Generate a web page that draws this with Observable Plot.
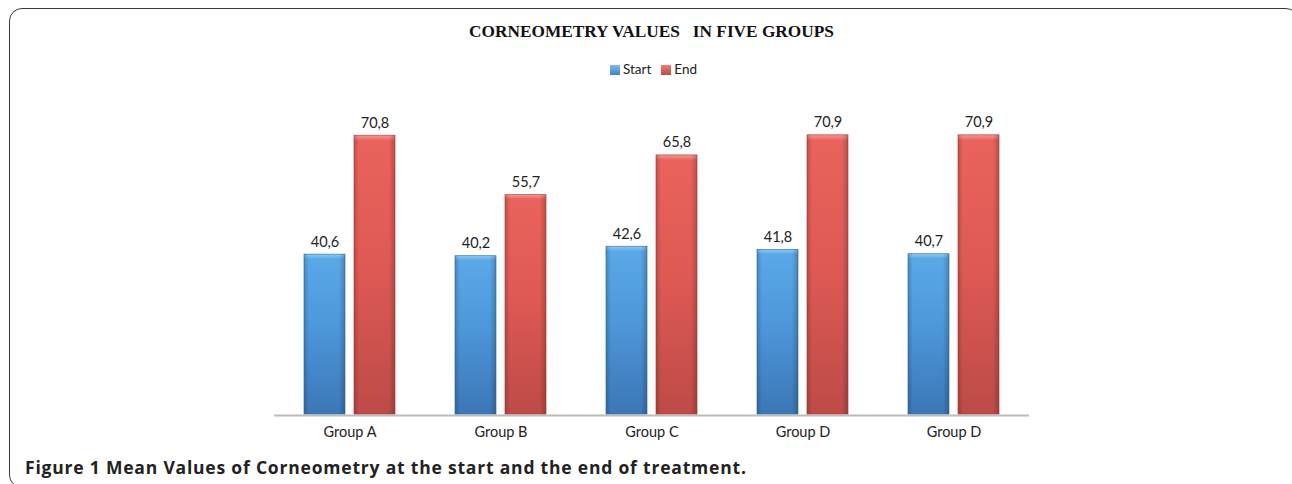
<!DOCTYPE html>
<html><head><meta charset="utf-8">
<script src="https://cdn.jsdelivr.net/npm/d3@7"></script>
<script src="https://cdn.jsdelivr.net/npm/@observablehq/plot@0.6"></script>
<style>
html,body{margin:0;padding:0;background:#fff;}
body{width:1292px;height:484px;overflow:hidden;position:relative;font-family:Lato,"Open Sans",sans-serif;}
#frame{position:absolute;left:9px;top:8px;width:1290px;height:480px;border:1.6px solid #3a3a3a;border-radius:13px;box-sizing:border-box;}
#title{position:absolute;left:0;width:1303px;top:22px;line-height:18px;text-align:center;font:bold 17.3px "Liberation Serif","Times New Roman",serif;white-space:pre;color:#111;}
#legend{position:absolute;left:0;width:1307px;top:61px;line-height:16px;text-align:center;font-size:13.5px;color:#222;}
#legend span.item{display:inline-block;margin:0 5px;}
#legend span.sw{display:inline-block;width:10px;height:10px;margin-right:3px;vertical-align:-1px;}
#chart{position:absolute;left:0;top:0;}
#caption{position:absolute;left:25px;top:455px;line-height:22px;font:bold 17.5px "Open Sans",sans-serif;letter-spacing:0.8px;color:#222;white-space:pre;}
</style>
</head><body>
<div id="frame"></div>
<div id="title"></div>
<div id="legend"></div>
<div id="chart"></div>
<div id="caption"></div>
<script>
const titleText = "CORNEOMETRY VALUES   IN FIVE GROUPS";
const captionBold = "Figure 1";
const captionText = " Mean Values of Corneometry at the start and the end of treatment.";
const groups = ["Group A", "Group B", "Group C", "Group D", "Group D"];
const seriesNames = ["Start", "End"];
const startValues = [40.6, 40.2, 42.6, 41.8, 40.7];
const endValues = [70.8, 55.7, 65.8, 70.9, 70.9];

const data = groups.flatMap((g, i) => [
  {gi: i, series: "Start", value: startValues[i]},
  {gi: i, series: "End", value: endValues[i]}
]);
const fmt = v => v.toFixed(1).replace(".", ",");

document.getElementById("title").textContent = titleText;
{
  const cap = document.getElementById("caption");
  const b = document.createElement("span"); b.textContent = captionBold; cap.appendChild(b);
  const t = document.createElement("span"); t.textContent = captionText; cap.appendChild(t);
}
{
  const lg = document.getElementById("legend");
  const grads = {Start: "linear-gradient(#7dbcf0,#3f80c4)", End: "linear-gradient(#f07a74,#c04b47)"};
  seriesNames.forEach(s => {
    const item = document.createElement("span"); item.className = "item";
    const sw = document.createElement("span"); sw.className = "sw"; sw.style.background = grads[s];
    item.appendChild(sw); item.appendChild(document.createTextNode(s));
    lg.appendChild(item);
  });
}

const chart = Plot.plot({
  width: 1292,
  height: 440,
  marginTop: 99,
  marginBottom: 26,
  marginLeft: 274,
  marginRight: 263,
  style: {fontFamily: "Lato, 'Open Sans', sans-serif", fontSize: "14.5px", color: "#222", background: "transparent"},
  fx: {domain: d3.range(groups.length), padding: 0, tickFormat: i => groups[i], label: null, axis: "bottom", tickSize: 0, tickPadding: 12},
  x: {domain: seriesNames, paddingInner: 0.176, paddingOuter: 0.569, axis: null},
  y: {domain: [0, 80], axis: null},
  marks: [
    Plot.ruleY([0], {stroke: "#bcbcbc", strokeWidth: 2, dy: 1}),
    Plot.barY(data.filter(d => d.series === "Start"), {fx: "gi", x: "series", y: "value", fill: "url(#gStart)", stroke: "#3a76b3", strokeWidth: 0.7}),
    Plot.barY(data.filter(d => d.series === "End"), {fx: "gi", x: "series", y: "value", fill: "url(#gEnd)", stroke: "#b5473f", strokeWidth: 0.7}),
    Plot.barY(data, {fx: "gi", x: "series", y: "value", fill: "url(#gEdge)"}),
    Plot.text(data, {fx: "gi", x: "series", y: "value", text: d => fmt(d.value), dy: -8, lineAnchor: "bottom", fontSize: 14.5, fill: "#222"})
  ]
});

d3.select(chart).insert("defs", ":first-child").html(`
  <linearGradient id="gStart" x1="0" y1="0" x2="0" y2="1">
    <stop offset="0" stop-color="#8fcaf5"/>
    <stop offset="0.03" stop-color="#5aa8e8"/>
    <stop offset="0.45" stop-color="#4d97da"/>
    <stop offset="1" stop-color="#3c77b6"/>
  </linearGradient>
  <linearGradient id="gEnd" x1="0" y1="0" x2="0" y2="1">
    <stop offset="0" stop-color="#f59a94"/>
    <stop offset="0.02" stop-color="#e9625c"/>
    <stop offset="0.45" stop-color="#e05a55"/>
    <stop offset="1" stop-color="#bd4b47"/>
  </linearGradient>
  <linearGradient id="gEdge" x1="0" y1="0" x2="1" y2="0">
    <stop offset="0" stop-color="#000" stop-opacity="0.18"/>
    <stop offset="0.12" stop-color="#000" stop-opacity="0"/>
    <stop offset="0.85" stop-color="#000" stop-opacity="0"/>
    <stop offset="1" stop-color="#000" stop-opacity="0.2"/>
  </linearGradient>`);

document.getElementById("chart").appendChild(chart);
</script>
</body></html>
